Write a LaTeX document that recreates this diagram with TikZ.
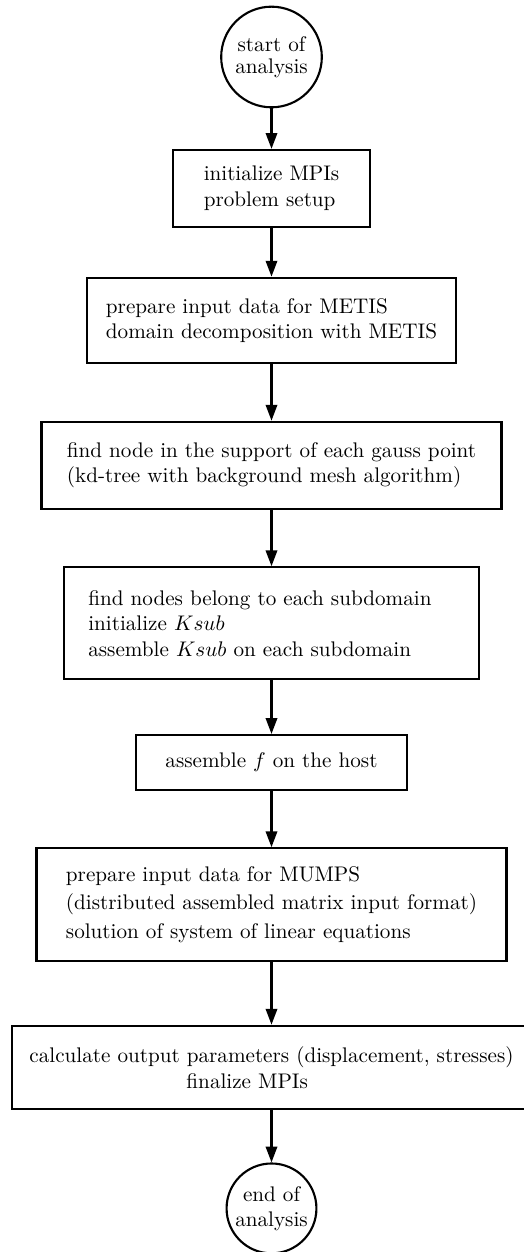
\documentclass[tikz,border=0pt]{standalone}
\usepackage{amsmath}
\usepackage{amssymb}
\usepackage{tikz}
\usetikzlibrary{arrows,shapes}
\usetikzlibrary{arrows.meta}
\usetikzlibrary{calc}

\begin{document}
\begin{tikzpicture}[
    x=0.473pt, y=-0.473pt,
    term_node/.style={circle, draw, line width=1pt, align=center, inner sep=0pt},
    process_node/.style={rectangle, draw, line width=1pt, align=left},
    flow_arrow/.style={draw, line width=1pt, -{Triangle[length=7.5pt, width=5.4pt]}}
]

% 畫布範圍 (Canvas size)
\useasboundingbox (0, 0) rectangle (523, 1252);

% 定義節點位置 (Define node positions)
\node[term_node, minimum size=47.6pt] (start) at (271.5, 57) {start of\\[-1.7pt]analysis};
\node[process_node, minimum width=93.3pt, minimum height=36.3pt] (init) at (271.5, 188.3) {initialize MPIs\\problem setup};
\node[process_node, minimum width=174.9pt, minimum height=40.3pt] (metis) at (271.5, 320.3) {prepare input data for METIS\\domain decomposition with METIS};
\node[process_node, minimum width=217.6pt, minimum height=41.4pt] (search) at (271.5, 465.5) {find node in the support of each gauss point\\(kd-tree with background mesh algorithm)};
\node[process_node, text width=173.3pt, minimum width=196.3pt, minimum height=53pt] (ksub) at (271.5, 623.3) {find nodes belong to each subdomain\\initialize $Ksub$\\assemble $Ksub$ on each subdomain};
\node[process_node, minimum width=128.5pt, minimum height=26pt] (force) at (271.5, 762.5) {assemble $f$ on the host};
\node[process_node, minimum width=222.3pt, minimum height=53.2pt] (mumps) at (271.5, 904.5) {prepare input data for MUMPS\\[1.4pt](distributed assembled matrix input format)\\[1.4pt]solution of system of linear equations};
\node[process_node, align=center, minimum width=245.8pt, minimum height=39.5pt] (output) at (271.5, 1067.5) {calculate output parameters (displacement, stresses)\\finalize MPIs\hspace*{23pt}};
\node[term_node, minimum size=42.5pt] (finish) at (271.5, 1208.4) {end of\\analysis};

% 連接節點 (Connect the nodes)
\path[flow_arrow]
    (start) edge (init)
    (init) edge (metis)
    (metis) edge (search)
    (search) edge (ksub)
    (ksub) edge (force)
    (force) edge (mumps)
    (mumps) edge (output)
    (output) edge (finish);

\end{tikzpicture}
\end{document}
